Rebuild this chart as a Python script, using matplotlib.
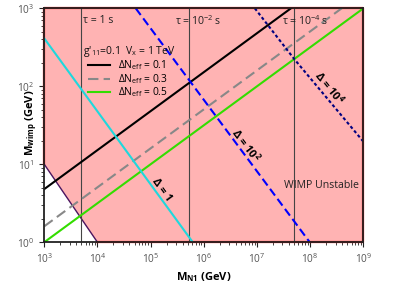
import numpy as np
import matplotlib
matplotlib.use("Agg")
import matplotlib.pyplot as plt

plt.rcParams['font.family'] = ['Open Sans', 'DejaVu Sans']
plt.rcParams['mathtext.fontset'] = 'custom'
plt.rcParams['mathtext.rm'] = 'Open Sans'
plt.rcParams['mathtext.it'] = 'Open Sans:italic'
plt.rcParams['mathtext.bf'] = 'Open Sans:bold'

# Delta N_eff lines: (M_N1 endpoints, M_wimp endpoints)
mn_neff = [1e3, 1e9]
neff_01 = [4.8, 4.8e3]
neff_03 = [1.6, 1.6e3]
neff_05 = [1.0, 1.0e3]

# Delta contours
d1_x = [1e3, 6.2e5]
d1_y = [412, 1.0]
d2_x = [5.25e4, 9.8e7]
d2_y = [1e3, 1.0]
d4_x = [9.1e6, 5.0e7, 1e9]
d4_y = [1e3, 224, 19.5]

# lifetime lines
tau_x = [5e3, 5.2e5, 5e7]
tau_labels = [r'τ = 1 s', r'τ = 10$^{\mathregular{-2}}$ s', r'τ = 10$^{\mathregular{-4}}$ s']
tau_text_x = [5.4e3, 2.87e5, 2.9e7]

# WIMP unstable region boundary
reg_x = [1e3, 1e3, 1e9, 1e9, 1e4, 1e3]
reg_y = [10, 1e3, 1e3, 1, 1, 10]

# major ticks (decades)
x_ticks = [1e3, 1e4, 1e5, 1e6, 1e7, 1e8, 1e9]
y_ticks = [1e0, 1e1, 1e2, 1e3]

fig = plt.figure(figsize=(3.95, 2.87), dpi=100)
ax = fig.add_axes([0.112, 0.156, 0.808, 0.815])
ax.set_xscale('log')
ax.set_yscale('log')
ax.set_xticks(x_ticks)
ax.set_yticks(y_ticks)
ax.set_xlim(1e3, 1e9)
ax.set_ylim(1, 1e3)

ax.fill(reg_x, reg_y, facecolor='#FFB3B3', edgecolor='none', zorder=1)
ax.plot(reg_x[:5], reg_y[:5], color='red', lw=1.6, zorder=2, clip_on=False)
ax.plot(reg_x[4:], reg_y[4:], color='#4a1560', lw=1.0, zorder=2)

for tx in tau_x:
    ax.axvline(tx, color='#444444', lw=0.8, zorder=3)
for tx, lab in zip(tau_text_x, tau_labels):
    ax.text(tx, 690, lab, fontsize=7.6, ha='left', va='center',
            color='#222222', zorder=5)

l1, = ax.plot(mn_neff, neff_01, color='black', lw=1.5, zorder=4)
l2, = ax.plot(mn_neff, neff_03, color='#888888', lw=1.5, dashes=(5, 2.5), zorder=4)
l3, = ax.plot(mn_neff, neff_05, color='#33DD00', lw=1.5, zorder=4)

ax.plot(d1_x, d1_y, color='#1ED8DD', lw=1.5, zorder=4)
ax.plot(d2_x, d2_y, color='#0000FF', lw=1.5, dashes=(4, 2), zorder=4)
ax.plot(d4_x, d4_y, color='#000080', lw=1.5, dashes=(1.5, 1.2), zorder=4)

ax.text(1.6e5, 4.7, r'Δ = 1', fontsize=8, fontweight='bold', rotation=-54,
        ha='center', va='center', zorder=5)
ax.text(6.2e6, 17.7, r'Δ = 10$^{\mathbf{2}}$', fontsize=8, fontweight='bold', rotation=-53,
        ha='center', va='center', zorder=5)
ax.text(2.3e8, 96, r'Δ = 10$^{\mathbf{4}}$', fontsize=8, fontweight='bold', rotation=-51,
        ha='center', va='center', zorder=5)
ax.text(1.6e8, 5.3, 'WIMP Unstable', fontsize=7.6, ha='center', va='center',
        color='#222222', zorder=5)

# legend title drawn as its own text so it can sit left of the handles
ax.text(0.1223, 0.8145, r"g'$_{\mathregular{11}}$=0.1  V$_{\mathregular{x}}$ = 1 TeV",
        transform=ax.transAxes, fontsize=7.5, ha='left', va='center',
        color='#111111', zorder=6)
leg = ax.legend([l1, l2, l3],
                [r'ΔN$_{\mathregular{eff}}$ = 0.1', r'ΔN$_{\mathregular{eff}}$ = 0.3',
                 r'ΔN$_{\mathregular{eff}}$ = 0.5'],
                loc='upper left', bbox_to_anchor=(0.137, 0.785), frameon=False,
                fontsize=7.4, handlelength=2.14, labelspacing=-0.03,
                handletextpad=0.78, borderpad=0, borderaxespad=0)
leg.set_zorder(6)

for s in ax.spines.values():
    s.set_linewidth(1.3)
    s.set_color('#222222')
    s.set_zorder(7)
ax.tick_params(which='both', labelsize=7.3, labelcolor='#555555', color='#222222')
ax.tick_params(which='major', length=3.5)
ax.tick_params(which='minor', length=2)

ax.set_xlabel(r'M$_{\mathbf{N1}}$ (GeV)', fontsize=8, fontweight='bold', labelpad=3)
ax.set_ylabel(r'M$_{\mathbf{wimp}}$ (GeV)', fontsize=8, fontweight='bold')
ax.yaxis.label.set_va('center')
ax.yaxis.set_label_coords(-0.042, 0.51)

fig.savefig('out.png', dpi=100)
